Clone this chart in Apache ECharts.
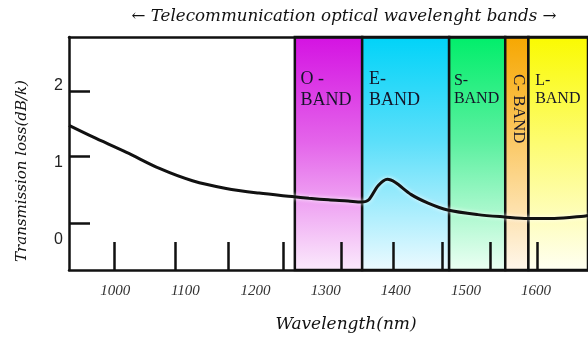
<!DOCTYPE html>
<html>
<head>
<meta charset="utf-8">
<script src="https://cdn.jsdelivr.net/npm/echarts@6/dist/echarts.min.js"></script>
<style>
  html, body { margin: 0; padding: 0; background: #fff; }
  #chart { width: 588px; height: 338px; }
</style>
</head>
<body>
<div id="chart"></div>
<script>
// Fibre attenuation curve (wavelength in nm, loss in dB/km)
const wavelength = [934, 968, 1016, 1063, 1110, 1158, 1205, 1252, 1276, 1304, 1332, 1351, 1361, 1375, 1388, 1399, 1422, 1446, 1474, 1517, 1555, 1588, 1626, 1668, 1674];
const loss = [1.48, 1.33, 1.13, 0.92, 0.76, 0.66, 0.60, 0.555, 0.533, 0.512, 0.497, 0.484, 0.51, 0.70, 0.78, 0.74, 0.58, 0.47, 0.38, 0.32, 0.29, 0.27, 0.27, 0.30, 0.31];

// Telecom bands
const bandLabels = ['O -\nBAND', 'E-\nBAND', 'S-\nBAND', 'C- BAND', 'L-\nBAND'];
const bandStart = [1256, 1352, 1476, 1556, 1589];
const bandEnd = [1352, 1476, 1556, 1589, 1674];
const bandTop = ['#d412e2', '#00d3f8', '#00ee6a', '#f6a700', '#fafa00'];
const bandMid = ['#e464ea', '#5cdffa', '#5cf0a0', '#fbc966', '#fdfc70'];
const bandBottom = ['#fbebfc', '#edfaff', '#edfff4', '#fff7ec', '#fffff3'];

// Axis ticks and labels
const xTickValues = [998, 1085, 1161, 1240, 1322, 1397, 1466, 1535, 1601];
const xLabelValues = [1000, 1100, 1200, 1300, 1400, 1500, 1600];
const yTickValues = [0.21, 1.08, 1.93];
const yLabelValues = [0, 1, 2];

const X_MIN = 934, X_MAX = 1674, Y_MIN = -0.4, Y_MAX = 2.63;

const bandLabelStyle = [
  { fontSize: 18, lineHeight: 21, position: [7, 33] },
  { fontSize: 18, lineHeight: 21, position: [8, 33] },
  { fontSize: 16, lineHeight: 18, position: [6, 36] },
  { fontSize: 17, lineHeight: 20, position: [14, 73], rotate: -90, align: 'center', verticalAlign: 'middle' },
  { fontSize: 16, lineHeight: 18, position: [8, 36] }
];

const areas = bandLabels.map((name, i) => {
  const ls = bandLabelStyle[i];
  return [
    {
      xAxis: bandStart[i],
      itemStyle: {
        color: {
          type: 'linear', x: 0, y: 0, x2: 0, y2: 1,
          colorStops: [
            { offset: 0, color: bandTop[i] },
            { offset: 0.45, color: bandMid[i] },
            { offset: 1, color: bandBottom[i] }
          ]
        },
        borderColor: '#111',
        borderWidth: 2.5
      },
      label: {
        show: true,
        formatter: name,
        position: ls.position,
        rotate: ls.rotate,
        align: ls.align || 'left',
        verticalAlign: ls.verticalAlign || 'top',
        fontFamily: 'Liberation Serif',
        fontSize: ls.fontSize,
        lineHeight: ls.lineHeight,
        color: '#141428'
      }
    },
    { xAxis: bandEnd[i] }
  ];
});

const chart = echarts.init(document.getElementById('chart'), null, { renderer: 'canvas' });

const axisLineStyle = { color: '#111', width: 2.5 };

chart.setOption({
  animation: false,
  backgroundColor: '#fff',
  grid: { left: 69, right: -3, top: 37, bottom: 68, containLabel: false },
  xAxis: [
    {
      type: 'value',
      min: X_MIN, max: X_MAX,
      z: 5,
      splitLine: { show: false },
      axisLine: { show: true, onZero: false, lineStyle: axisLineStyle },
      axisTick: { show: true, inside: true, length: 28, customValues: xTickValues, lineStyle: axisLineStyle },
      axisLabel: {
        customValues: xLabelValues,
        formatter: (v) => String(v),
        margin: 14,
        fontFamily: 'Liberation Serif',
        fontStyle: 'italic',
        fontSize: 15,
        color: '#333'
      }
    },
    {
      type: 'value',
      position: 'top',
      min: X_MIN, max: X_MAX,
      z: 5,
      splitLine: { show: false },
      axisLine: { show: true, onZero: false, lineStyle: axisLineStyle },
      axisTick: { show: false },
      axisLabel: { show: false }
    }
  ],
  yAxis: {
    type: 'value',
    min: Y_MIN, max: Y_MAX,
    z: 5,
    splitLine: { show: false },
    axisLine: { show: true, onZero: false, lineStyle: axisLineStyle },
    axisTick: { show: true, inside: true, length: 21, customValues: yTickValues, lineStyle: axisLineStyle },
    axisLabel: {
      customValues: yLabelValues,
      margin: 6,
      fontFamily: 'Liberation Sans',
      fontSize: 16,
      color: '#222'
    }
  },
  graphic: [
    {
      type: 'text', x: 344, y: 17, z: 10,
      style: {
        text: '\u2190 Telecommunication optical wavelenght bands \u2192',
        font: 'italic 16.7px "DejaVu Serif"',
        fill: '#111', align: 'center', verticalAlign: 'middle'
      }
    },
    {
      type: 'text', x: 346, y: 325, z: 10,
      style: {
        text: 'Wavelength(nm)',
        font: 'italic 17px "DejaVu Serif"',
        fill: '#111', align: 'center', verticalAlign: 'middle'
      }
    },
    {
      type: 'text', x: 22, y: 171, z: 10, rotation: Math.PI / 2,
      style: {
        text: 'Transmission loss(dB/k)',
        font: 'italic 15px "DejaVu Serif"',
        fill: '#111', align: 'center', verticalAlign: 'middle'
      }
    }
  ],
  series: [
    {
      type: 'line',
      data: wavelength.map((w, i) => [w, loss[i]]),
      smooth: 0.3,
      showSymbol: false,
      lineStyle: { color: '#111', width: 3, shadowColor: 'rgba(255,255,255,0.9)', shadowBlur: 4 },
      markArea: { silent: true, data: areas }
    }
  ]
});
</script>
</body>
</html>
